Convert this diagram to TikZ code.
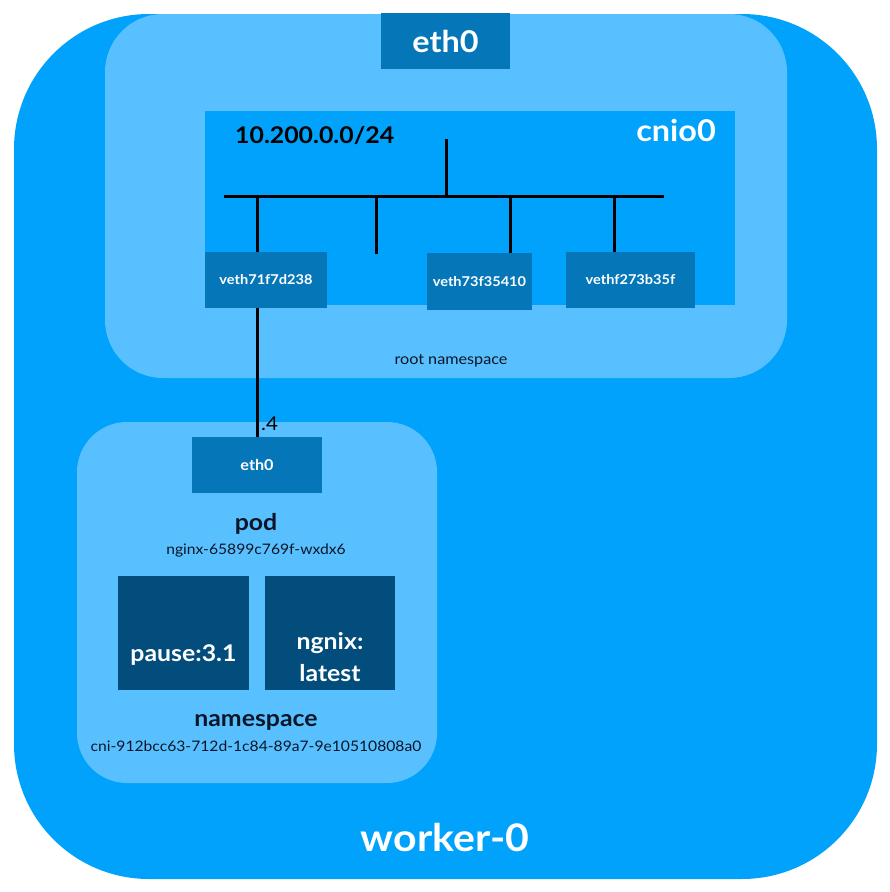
\documentclass[tikz,border=0pt]{standalone}
\usepackage{fontspec}
\setmainfont{Lato}[FakeStretch=1.08]
\definecolor{outerblue}{HTML}{00A2FB}
\definecolor{lightblue}{HTML}{58C0FF}
\definecolor{midblue}{HTML}{0577B9}
\definecolor{darkblue}{HTML}{034D7C}
\definecolor{inkc}{HTML}{0A1628}
\tikzset{
  box/.style={rectangle, inner sep=0pt, outer sep=0pt},
  vethbox/.style={box, fill=midblue, text=white, font=\fontsize{13.5}{16}\selectfont\bfseries},
  ctrbox/.style={box, fill=darkblue},
  ctrtext/.style={inner sep=0pt, text=white, font=\fontsize{23}{26}\selectfont\bfseries},
  wire/.style={line width=3pt, draw=black},
  lbl/.style={inner sep=0pt, text=inkc},
}
\begin{document}
\begin{tikzpicture}[x=1pt,y=-1pt]
\useasboundingbox (0,0) rectangle (890,892);
% worker
\fill[outerblue, rounded corners=135pt] (14,14) rectangle (877,879);
% root namespace
\fill[lightblue, rounded corners=58pt] (105,14) rectangle (787,378);
% pod namespace
\fill[lightblue, rounded corners=50pt] (77,422) rectangle (437,783);

\node[box, fill=midblue, minimum width=129pt, minimum height=56pt, text=white,
  font=\fontsize{30}{32}\selectfont\bfseries] (etht) at (445.5,41) {eth0};
\node[box, fill=outerblue, minimum width=530pt, minimum height=194pt] (cnio) at (470,208) {};
\node[lbl, anchor=east, text=white, font=\fontsize{30}{32}\selectfont\bfseries] (cniolbl) at (716,130) {cnio0};
\node[lbl, anchor=west, text=black, font=\fontsize{23}{26}\selectfont\bfseries] (cidr) at (235,135) {10.200.0.0/24};

\node[vethbox, minimum width=122pt, minimum height=56pt] (v1) at (266,280) {veth71f7d238};
\node[vethbox, minimum width=105pt, minimum height=57pt] (v2) at (479.5,281.5) {veth73f35410};
\node[vethbox, minimum width=129pt, minimum height=56pt] (v3) at (630.5,280) {vethf273b35f};

\coordinate (busL) at (224,196);
\coordinate (busR) at (664,196);
\coordinate (stemT) at (446,139);
\coordinate (stemB) at (446,196);
\coordinate (freeT) at (376,196);
\coordinate (freeB) at (376,254);
\draw[wire] (busL) -- (busR);
\draw[wire] (stemB) -- (stemT);
\draw[wire] (257,196) -- (v1.north -| 257,0);
\draw[wire] (freeT) -- (freeB);
\draw[wire] (510,196) -- (v2.north -| 510,0);
\draw[wire] (614,196) -- (v3.north -| 614,0);

\node[lbl, font=\fontsize{15}{17}\selectfont] (rootns) at (451,361) {root namespace};

\node[vethbox, minimum width=130pt, minimum height=56pt, font=\fontsize{15}{17}\selectfont\bfseries] (pe) at (257,465) {eth0};
\draw[wire] (v1.south -| pe.north) -- (pe.north);
\node[lbl, anchor=west, text=black, font=\fontsize{19}{21}\selectfont] (dot4) at (261,424) {.4};

\node[lbl, font=\fontsize{23}{26}\selectfont\bfseries] (podlbl) at (256,524) {pod};
\node[lbl, font=\fontsize{14.5}{16}\selectfont] (podname) at (256,550) {nginx-65899c769f-wxdx6};

\node[ctrbox, minimum width=131pt, minimum height=114pt] (pause) at (183.5,633) {};
\node[ctrtext] (pausel) at (183.5,655) {pause:3.1};
\node[ctrbox, minimum width=130pt, minimum height=114pt] (ngx) at (330,633) {};
\node[ctrtext] (ngxl1) at (330,643) {ngnix:};
\node[ctrtext] (ngxl2) at (330,673) {latest};

\node[lbl, font=\fontsize{23}{26}\selectfont\bfseries] (nslbl) at (256,722) {namespace};
\node[lbl, font=\fontsize{14.5}{16}\selectfont] (nsname) at (256,746) {cni-912bcc63-712d-1c84-89a7-9e10510808a0};

\node[lbl, text=white, font=\fontsize{38}{42}\selectfont\bfseries] (worker) at (445,838) {worker-0};
\end{tikzpicture}
\end{document}
